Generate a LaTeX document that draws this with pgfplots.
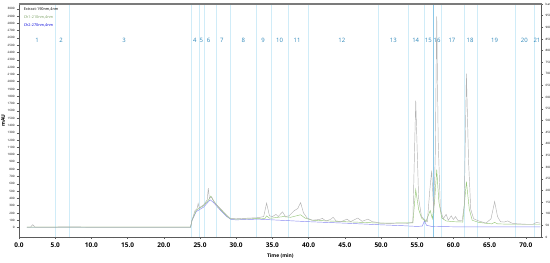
\documentclass[border=0pt]{standalone}
\usepackage{fontspec}
\setmainfont{Open Sans}
\usepackage{pgfplots}
\pgfplotsset{compat=1.18}
\definecolor{cGray}{RGB}{178,178,178}
\definecolor{cGreen}{RGB}{150,198,120}
\definecolor{cBlue}{RGB}{135,135,240}
\definecolor{cFrac}{RGB}{208,236,248}
\definecolor{cFracDark}{RGB}{140,200,232}
\definecolor{cFracTxt}{RGB}{45,135,185}
\definecolor{cAxis}{RGB}{90,90,90}
\tikzset{frac/.style={font=\fontsize{6}{7}\selectfont, text=cFracTxt}}

\begin{document}
\begin{tikzpicture}
\useasboundingbox (-19bp,-26bp) rectangle (531bp,237bp);
\begin{axis}[
    scale only axis, width=522.7bp, height=233bp,
    xmin=0, xmax=72.2, ymin=-130, ymax=3065,
    xtick={0,5,...,70}, minor x tick num=4,
    ytick={0,100,...,3000},
    xtick pos=bottom, ytick pos=left,
    tick align=outside, major tick length=2bp, minor tick length=1.2bp,
    tick style={cAxis, line width=0.4bp},
    axis line style={cAxis, line width=0.6bp},
    /pgf/number format/assume math mode=true,
    /pgf/number format/1000 sep={},
    xticklabel style={font=\fontsize{6.5}{7}\selectfont\bfseries,
      /pgf/number format/.cd, fixed, fixed zerofill, precision=1},
    yticklabel style={font=\fontsize{3}{3.5}\selectfont, xshift=1bp},
    xlabel={\bfseries Time (min)},
    xlabel style={font=\fontsize{5}{6}\selectfont, yshift=0bp},
    ylabel={\bfseries mAU},
    ylabel style={font=\fontsize{5}{6}\selectfont, yshift=-4bp},
    legend style={draw=none, fill=none, at={(0.004,0.997)}, anchor=north west,
      font=\fontsize{3.8}{4}\selectfont, inner sep=0.5bp},
    legend cell align=left,
    legend image code/.code={},
  ]
  % fraction boundaries
  \pgfplotsinvokeforeach{5.0,6.9,23.85,24.9,25.6,27.2,29.2,32.8,34.85,37.2,40.0,49.6,53.8,56.0,58.3,61.5,63.3,68.5,71.2}{
    \draw[cFrac, line width=0.5bp] (axis cs:#1,-130) -- (axis cs:#1,3065);
  }
  \draw[cFracDark, line width=0.5bp] (axis cs:57.2,-130) -- (axis cs:57.2,3065);
  % fraction numbers
  \node[frac] at (axis cs:2.5,2565) {1};
  \node[frac] at (axis cs:5.8,2565) {2};
  \node[frac] at (axis cs:14.5,2565) {3};
  \node[frac] at (axis cs:24.3,2565) {4};
  \node[frac] at (axis cs:25.2,2565) {5};
  \node[frac] at (axis cs:26.2,2565) {6};
  \node[frac] at (axis cs:28.0,2565) {7};
  \node[frac] at (axis cs:31.0,2565) {8};
  \node[frac] at (axis cs:33.7,2565) {9};
  \node[frac] at (axis cs:36.0,2565) {10};
  \node[frac] at (axis cs:38.4,2565) {11};
  \node[frac] at (axis cs:44.6,2565) {12};
  \node[frac] at (axis cs:51.7,2565) {13};
  \node[frac] at (axis cs:54.8,2565) {14};
  \node[frac] at (axis cs:56.55,2565) {15};
  \node[frac] at (axis cs:57.75,2565) {16};
  \node[frac] at (axis cs:59.8,2565) {17};
  \node[frac] at (axis cs:62.3,2565) {18};
  \node[frac] at (axis cs:65.7,2565) {19};
  \node[frac] at (axis cs:69.8,2565) {20};
  \node[frac] at (axis cs:71.55,2565) {21};
  % Ch2-270nm
  \addplot[cBlue, line width=0.45bp, forget plot] coordinates {
    (1.1,4) (5,4) (10,4) (15,4) (20,4) (23.7,4)
    (23.9,100) (24.5,220) (25.5,280) (26.4,380) (26.8,350) (27.8,240) (28.7,150)
    (29.3,110) (30,105) (33,115) (35,105) (40,80) (45,60) (50,37) (53,25)
    (55,15) (55.7,20) (56.0,90) (56.3,30) (57,15) (60,10) (65,8) (72,10)
  };
  % Ch1-210nm
  \addplot[cGreen, line width=0.45bp, forget plot] coordinates {
    (1.1,5) (5,5) (10,5) (15,5) (20,5) (23.7,5)
    (23.9,100) (24.5,240) (25.5,300) (26.2,380) (26.5,430) (26.9,360) (27.8,250)
    (28.7,160) (29.2,120) (30,115) (32,120) (34,125) (34.2,160) (34.6,128)
    (35,130) (36.5,150) (37.5,140) (38.9,175) (39.5,130) (40.5,100) (45,80)
    (50,60) (54.4,65) (54.8,520) (55.2,250) (55.6,130) (56.2,80) (56.8,233)
    (57.1,120) (57.4,350) (57.7,795) (58.0,350) (58.4,130) (59,90) (60,80)
    (61.3,75) (61.8,630) (62.2,250) (62.6,100) (63.5,70) (65.3,50) (65.7,70)
    (66.1,50) (68,45) (72,45)
  };
  % Extract-190nm
  \addplot[cGray, line width=0.45bp] coordinates {
    (1.1,5) (1.6,6) (1.9,40) (2.2,6) (5,6) (6,10) (10,6) (15,6) (20,6) (23.7,6)
    (23.9,100) (24.3,230) (24.6,260) (24.75,330) (24.9,270) (25.5,310) (26.0,380)
    (26.15,540) (26.3,400) (26.6,420) (26.8,380) (27.2,320) (27.8,260) (28.3,210)
    (28.7,170) (29.1,130) (29.5,122) (30,120) (31,125) (32,130) (33,135) (33.8,150)
    (34.2,335) (34.6,160) (35.0,150) (35.5,180) (35.8,150) (36.4,215) (36.8,150)
    (37.3,160) (38.0,230) (38.5,260) (38.9,340) (39.3,200) (39.8,130) (40.5,100)
    (41.5,110) (41.9,125) (42.4,90) (43.0,110) (43.4,140) (43.8,90) (44.5,80)
    (45.3,115) (45.8,80) (46.8,130) (47.4,85) (48.2,115) (48.8,80) (49.5,70)
    (50,60) (52,55) (53.5,55) (54.4,70) (54.8,1740) (55.2,400) (55.6,150)
    (56.0,110) (56.4,80) (56.75,520) (57.0,780) (57.3,200) (57.5,1000) (57.7,2895)
    (57.9,1200) (58.2,250) (58.6,120) (59.0,180) (59.3,100) (59.7,160) (60.0,110)
    (60.3,150) (60.6,100) (61.2,90) (61.5,300) (61.8,2110) (62.1,900) (62.4,250)
    (62.8,120) (63.5,90) (64.5,60) (65.2,120) (65.7,355) (66.1,150) (66.5,80)
    (67.0,75) (67.5,90) (68.2,55) (70,45) (71,45) (71.5,70) (72,60)
  };
  \addlegendentry{\textcolor{black}{Extract-190nm,4nm}}
  \addlegendimage{empty legend}
  \addlegendentry{\textcolor{cGreen!80!black}{Ch1-210nm,4nm}}
  \addlegendimage{empty legend}
  \addlegendentry{\textcolor{blue!85!black}{Ch2-270nm,4nm}}
\end{axis}
\begin{axis}[
    scale only axis, width=522.7bp, height=233bp,
    xmin=0, xmax=72.2, ymin=0, ymax=1000,
    axis x line=none, axis y line*=right,
    ytick={0,50,...,1000},
    yticklabels={0,50,100,150,200,250,300,350,400,450,500,550,600,650,700,750,800,850,900,950,bar},
    tick align=outside, major tick length=1.5bp,
    tick style={cAxis, line width=0.4bp},
    axis line style={cAxis, line width=0.6bp},
    yticklabel style={font=\fontsize{3}{3.5}\selectfont, xshift=-1bp},
  ]
  \addplot[draw=none] coordinates {(0,0)};
\end{axis}
\draw[cAxis!80, line width=1.5bp] (0,233bp) -- (522.7bp,233bp);
\end{tikzpicture}
\end{document}
